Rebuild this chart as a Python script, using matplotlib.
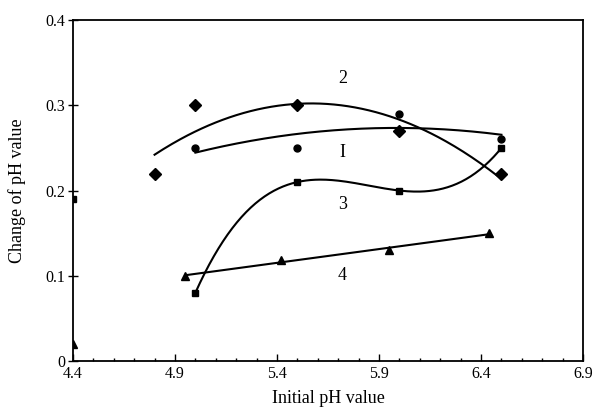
import numpy as np
import matplotlib
matplotlib.use("Agg")
import matplotlib.pyplot as plt
from matplotlib.ticker import MultipleLocator, FixedLocator

plt.rcParams['font.family'] = ['Liberation Serif', 'DejaVu Serif']

# Series 1 (circles)
x1 = [5.0, 5.5, 6.0, 6.5]
y1 = [0.25, 0.25, 0.29, 0.26]
# Series 2 (diamonds)
x2 = [4.8, 5.0, 5.5, 6.0, 6.5]
y2 = [0.22, 0.30, 0.30, 0.27, 0.22]
# Series 3 (squares)
x3 = [4.4, 5.0, 5.5, 6.0, 6.5]
y3 = [0.19, 0.08, 0.21, 0.20, 0.25]
# Series 4 (triangles)
x4 = [4.4, 4.95, 5.42, 5.95, 6.44]
y4 = [0.02, 0.10, 0.118, 0.13, 0.15]

curve_labels = ["I", "2", "3", "4"]
label_pos = [(5.72, 0.245), (5.72, 0.332), (5.72, 0.184), (5.72, 0.100)]

xticks = [4.4, 4.9, 5.4, 5.9, 6.4, 6.9]
yticks = [0, 0.1, 0.2, 0.3, 0.4]
ytick_labels = ["0", "0.1", "0.2", "0.3", "0.4"]

fig = plt.figure(figsize=(5.98, 4.12), dpi=100)
ax = fig.add_axes([0.122, 0.124, 0.853, 0.827])
ax.set_xlim(4.4, 6.9)
ax.set_ylim(0, 0.4)

lw = 1.5
c = 'black'

# Curve 1: quadratic fit
p = np.polyfit(x1, y1, 2)
xs = np.linspace(x1[0], x1[-1], 200)
ax.plot(xs, np.polyval(p, xs), color=c, lw=lw)
ax.plot(x1, y1, 'o', color=c, ms=5)

# Curve 2: quadratic fit
p = np.polyfit(x2, y2, 2)
xs = np.linspace(x2[0], x2[-1], 200)
ax.plot(xs, np.polyval(p, xs), color=c, lw=lw)
ax.plot(x2, y2, 'D', color=c, ms=6)

# Curve 3: cubic through points from 5.0
p = np.polyfit(x3[1:], y3[1:], 3)
xs = np.linspace(x3[1], x3[-1], 200)
ax.plot(xs, np.polyval(p, xs), color=c, lw=lw)
ax.plot(x3, y3, 's', color=c, ms=5, clip_on=True)

# Curve 4: linear fit
p = np.polyfit(x4[1:], y4[1:], 1)
xs = np.linspace(x4[1], x4[-1], 50)
ax.plot(xs, np.polyval(p, xs), color=c, lw=lw)
ax.plot(x4, y4, '^', color=c, ms=6, clip_on=True)

for lab, (lx, ly) in zip(curve_labels, label_pos):
    ax.text(lx, ly, lab, fontsize=13, ha='center', va='center')

ax.xaxis.set_major_locator(FixedLocator(xticks))
ax.xaxis.set_minor_locator(MultipleLocator(0.1))
ax.set_xticklabels([f"{t:.1f}" for t in xticks])
ax.set_yticks(yticks)
ax.set_yticklabels(ytick_labels)
ax.tick_params(axis='x', which='major', direction='in', length=5, labelsize=11.5, width=1)
ax.tick_params(axis='x', which='minor', direction='in', length=2.5, width=1)
ax.tick_params(axis='y', which='major', direction='inout', length=7, labelsize=11.5, width=1, pad=2)
for s in ax.spines.values():
    s.set_linewidth(1.3)

ax.set_xlabel("Initial pH value", fontsize=13, labelpad=6)
ax.set_ylabel("Change of pH value", fontsize=13, labelpad=14)

fig.savefig("out.png", dpi=100)
